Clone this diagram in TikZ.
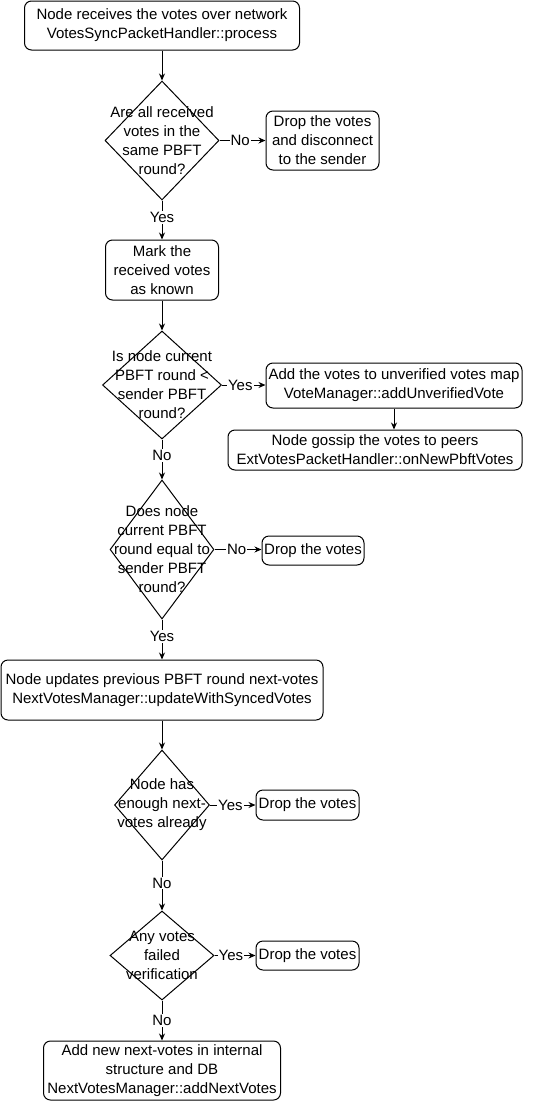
\documentclass[tikz,border=0pt]{standalone}
\usepackage{fontspec}
\setmainfont{Liberation Sans}
\usetikzlibrary{shapes.geometric,arrows.meta}
\begin{document}
\begin{tikzpicture}[x=1pt,y=-1pt,line width=1pt,
  font=\fontsize{15}{19}\selectfont,
  box/.style={draw,rounded corners=7pt,align=center,inner sep=0pt},
  dia/.style={draw,diamond,inner sep=0pt},
  dtext/.style={align=center},
  arr/.style={-{Stealth[length=7pt,width=6pt]}},
  lbl/.style={fill=white,inner sep=1pt}]
\useasboundingbox (0,0) rectangle (551,1101);
% nodes
\node[box,minimum width=275,minimum height=49] (start) at (162,25.5)
  {Node receives the votes over network\\VotesSyncPacketHandler::process};
\node[dia,minimum width=114,minimum height=119] (d1) at (162,140.5) {};
\node[dtext] at (d1.center) {Are all received\\votes in the\\same PBFT\\round?};
\node[box,minimum width=113,minimum height=59] (drop1) at (322.5,140.5)
  {Drop the votes\\and disconnect\\to the sender};
\node[box,minimum width=113,minimum height=60] (mark) at (162,270)
  {Mark the\\received votes\\as known};
\node[dia,minimum width=119,minimum height=108] (d2) at (162,385) {};
\node[dtext] at (d2.center) {Is node current\\PBFT round <\\sender PBFT\\round?};
\node[box,minimum width=256,minimum height=45] (add) at (394,385.5)
  {Add the votes to unverified votes map\\VoteManager::addUnverifiedVote};
\node[box,minimum width=294,minimum height=40] (gossip) at (375,450)
  {Node gossip the votes to peers\\ExtVotesPacketHandler::onNewPbftVotes};
\node[dia,minimum width=104,minimum height=139] (d3) at (162,549.5) {};
\node[dtext] at (d3.center) {Does node\\current PBFT\\round equal to\\sender PBFT\\round?};
\node[box,minimum width=102,minimum height=29] (drop2) at (313,550.5) {Drop the votes};
\node[box,minimum width=322,minimum height=60] (update) at (162,690)
  {Node updates previous PBFT round next-votes\\NextVotesManager::updateWithSyncedVotes};
\node[dia,minimum width=95,minimum height=110] (d4) at (162,805) {};
\node[dtext] at (d4.center) {Node has\\enough next-\\votes already};
\node[box,minimum width=103,minimum height=30] (drop3) at (307.5,805) {Drop the votes};
\node[dia,minimum width=104,minimum height=89] (d5) at (162,955.5) {};
\node[dtext] at (d5.center) {Any votes\\failed\\verification};
\node[box,minimum width=103,minimum height=29] (drop4) at (307.5,955.5) {Drop the votes};
\node[box,minimum width=237,minimum height=59] (final) at (162,1070.5)
  {Add new next-votes in internal\\structure and DB\\NextVotesManager::addNextVotes};
% connectors
\draw[arr] (start) -- (d1);
\draw[arr] (d1.east) -- node[lbl,pos=0.45] {No} (drop1.west |- d1.east);
\draw[arr] (d1.south) -- node[lbl,pos=0.43] {Yes} (mark.north);
\draw[arr] (mark.south) -- (d2.north);
\draw[arr] (d2.east) -- node[lbl,pos=0.42] {Yes} (add.west |- d2.east);
\draw[arr] (add.south) -- (add.south |- gossip.north);
\draw[arr] (d2.south) -- node[lbl,pos=0.4] {No} (d3.north);
\draw[arr] (d3.east) -- node[lbl,pos=0.47] {No} (drop2.west |- d3.east);
\draw[arr] (d3.south) -- node[lbl,pos=0.42] {Yes} (update.north);
\draw[arr] (update.south) -- (d4.north);
\draw[arr] (d4.east) -- node[lbl,pos=0.45] {Yes} (drop3.west);
\draw[arr] (d4.south) -- node[lbl,pos=0.45] {No} (d5.north);
\draw[arr] (d5.east) -- node[lbl,pos=0.4] {Yes} (drop4.west);
\draw[arr] (d5.south) -- node[lbl,pos=0.5] {No} (final.north);
\end{tikzpicture}
\end{document}
